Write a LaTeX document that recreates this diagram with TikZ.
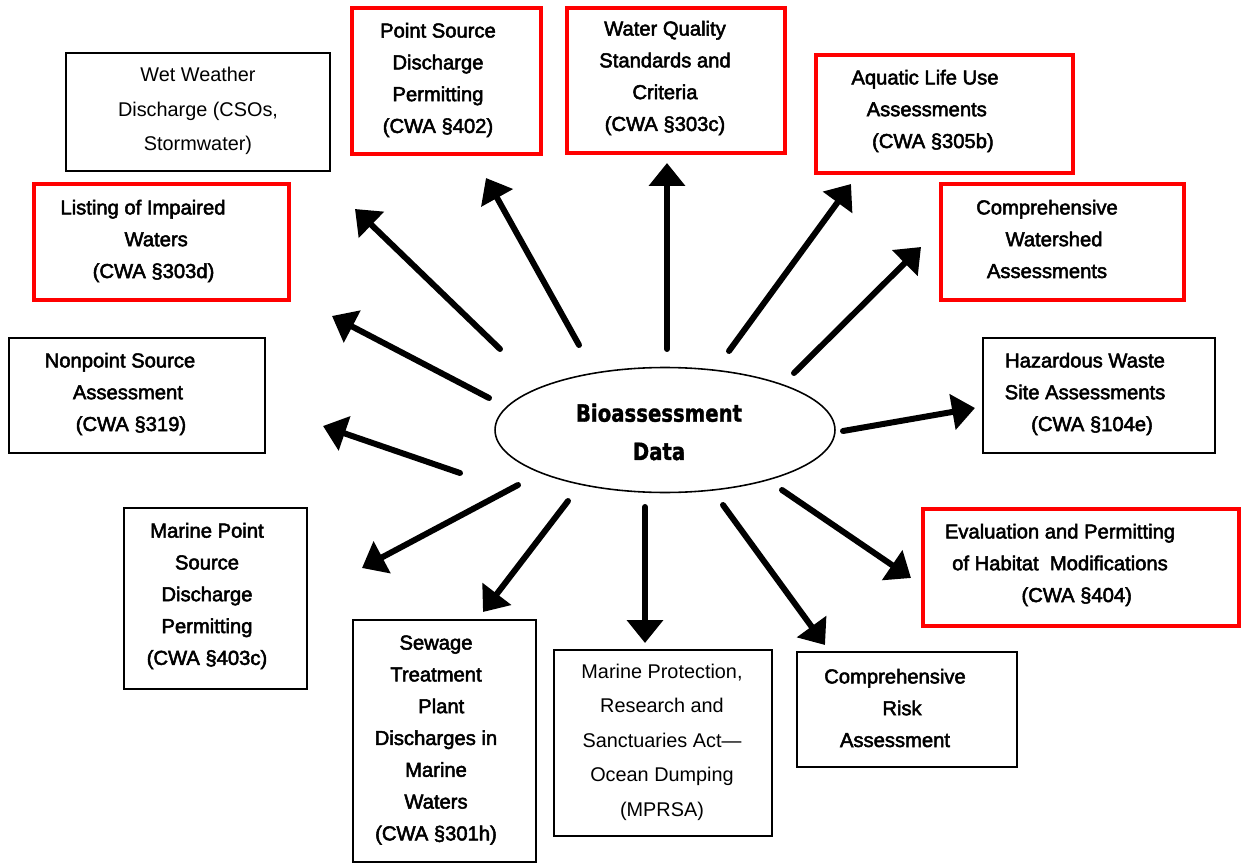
\documentclass[tikz,border=0pt]{standalone}
\usepackage{fontspec}
\usepackage{graphicx}
\setmainfont{Liberation Sans}
\newfontfamily\medfont[FakeBold=2.5]{Liberation Sans}
\newfontfamily\ellfont[FakeBold=1.5]{DejaVu Sans Bold}
\usetikzlibrary{arrows.meta,shapes.geometric,fit}
\definecolor{boxred}{RGB}{255,0,0}
\tikzset{
  blackbox/.style={draw=black, line width=1.3pt, inner sep=0pt},
  redbox/.style={draw=boxred, line width=2.3pt, inner sep=0pt},
  txt/.style={align=center, inner sep=0pt, font=\medfont\fontsize{11.5}{18.1}\selectfont},
  lighttxt/.style={align=center, inner sep=0pt, font=\fontsize{11.3}{19.6}\selectfont},
  arr/.style={line width=3.4pt, line cap=round, -{Triangle[length=13pt,width=20pt]}},
  hub/.style={ellipse, draw=black, line width=0.9pt, minimum width=6.8cm, minimum height=2.5cm, inner sep=0pt}
}
\begin{document}
\begin{tikzpicture}[x=0.02cm,y=-0.02cm]
\useasboundingbox (0,0) rectangle (1241,865);
\fill[white] (0,0) rectangle (1241,865);

% central ellipse
\node[hub] (hub) at (665,430) {};
\node[align=center, inner sep=0pt, font=\ellfont\fontsize{13.5}{21.8}\selectfont] (hubtxt) at (659,432)
  {\scalebox{0.83}[1]{Bioassessment}\\\scalebox{0.83}[1]{Data}};

% boxes
\node[blackbox, fit={(66,53) (330,171)}] (b1) {};
\node[lighttxt] (t1) at (198,111) {Wet Weather\\Discharge (CSOs,\\Stormwater)};

\node[redbox, fit={(352,8) (541,154)}] (b2) {};
\node[txt] (t2) at (438,80) {Point Source\\Discharge\\Permitting\\(CWA §402)};

\node[redbox, fit={(567,8) (785,153)}] (b3) {};
\node[txt] (t3) at (665,78) {Water Quality\\Standards and\\Criteria\\(CWA §303c)};

\node[redbox, fit={(816,55) (1073,173)}] (b4) {};
\node[txt] (t4) at (925,111) {Aquatic Life Use\\\hspace*{2pt}Assessments\\\hspace*{9pt}(CWA §305b)};

\node[redbox, fit={(34,184) (289,300)}] (b5) {};
\node[txt] (t5) at (143,241) {Listing of Impaired\\\hspace*{15pt}Waters\\\hspace*{12pt}(CWA §303d)};

\node[redbox, fit={(941,184) (1184,300)}] (b6) {};
\node[txt] (t6) at (1047,239) {Comprehensive\\\hspace*{8pt}Watershed\\Assessments};

\node[blackbox, fit={(9,338) (265,453)}] (b7) {};
\node[txt] (t7) at (120,394) {Nonpoint Source\\\hspace*{9pt}Assessment\\\hspace*{12.5pt}(CWA §319)};

\node[blackbox, fit={(983,338) (1215,453)}] (b8) {};
\node[txt] (t8) at (1085,394) {Hazardous Waste\\Site Assessments\\\hspace*{8pt}(CWA §104e)};

\node[redbox, fit={(923,509) (1239,626)}] (b9) {};
\node[txt] (t9) at (1060,565) {Evaluation and Permitting\\of Habitat~ Modifications\\\hspace*{19pt}(CWA §404)};

\node[blackbox, fit={(124,508) (307,689)}] (b10) {};
\node[txt] (t10) at (207,596) {Marine Point\\Source\\Discharge\\Permitting\\(CWA §403c)};

\node[blackbox, fit={(353,620) (536,862)}] (b11) {};
\node[txt] (t11) at (436,740) {Sewage\\Treatment\\\hspace*{6pt}Plant\\Discharges in\\Marine\\Waters\\(CWA §301h)};

\node[blackbox, fit={(554,650) (772,836)}] (b12) {};
\node[lighttxt] (t12) at (662,742) {Marine Protection,\\Research and\\Sanctuaries Act—\\Ocean Dumping\\(MPRSA)};

\node[blackbox, fit={(797,652) (1017,767)}] (b13) {};
\node[txt] (t13) at (895,708) {Comprehensive\\\hspace*{8pt}Risk\\Assessment};

% arrows
\coordinate (s1) at (500,349);  \coordinate (e1) at (355,209);
\coordinate (s2) at (579,345);  \coordinate (e2) at (486,178);
\coordinate (s3) at (489,398);  \coordinate (e3) at (332,316);
\coordinate (s4) at (667,349);  \coordinate (e4) at (667,163);
\coordinate (s5) at (729,351);  \coordinate (e5) at (851,184);
\coordinate (s6) at (794,373);  \coordinate (e6) at (921,247);
\coordinate (s7) at (843,431);  \coordinate (e7) at (975,408);
\coordinate (s8) at (460,473);  \coordinate (e8) at (323,426);
\coordinate (s9) at (518,485);  \coordinate (e9) at (362,568);
\coordinate (s10) at (568,501); \coordinate (e10) at (483,612);
\coordinate (s11) at (645,507); \coordinate (e11) at (645,643);
\coordinate (s12) at (723,505); \coordinate (e12) at (825,645);
\coordinate (s13) at (782,490); \coordinate (e13) at (911,578);

\foreach \i in {1,...,13} { \draw[arr] (s\i) -- (e\i); }
\end{tikzpicture}
\end{document}
